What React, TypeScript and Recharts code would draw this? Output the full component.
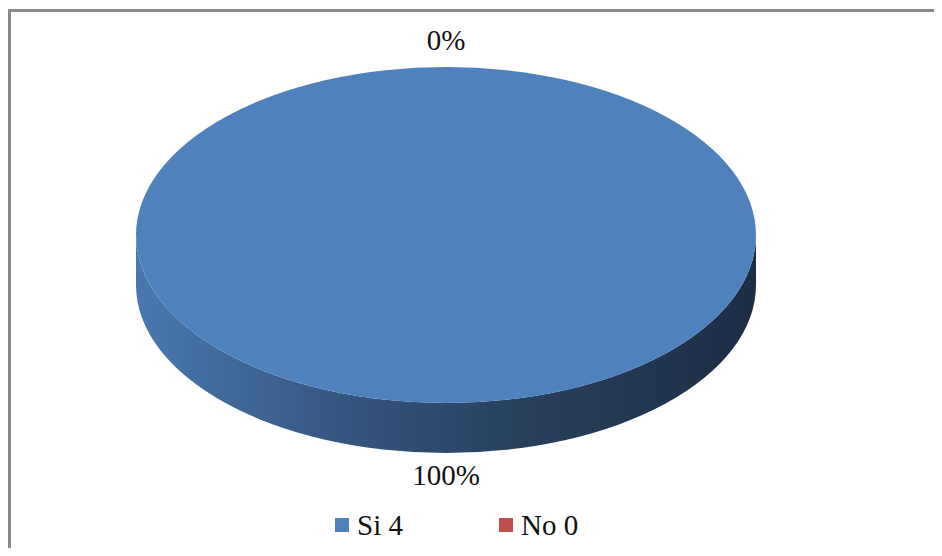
import { PieChart, Pie, Legend } from "recharts";

const categories = ["Si", "No"];
const counts = [4, 0];
const sliceColors = ["#4f81bd", "#c0504d"];

const data = categories.map((name, i) => ({ name, value: counts[i], fill: sliceColors[i] }));

// vertical squash of the disc and thickness of its rim
const TILT = 168 / 310;
const DEPTH = 50;
const SERIF = "'Liberation Serif', 'Times New Roman', serif";

function shade(hex: string, f: number) {
  const n = parseInt(hex.slice(1), 16);
  const ch = [(n >> 16) & 255, (n >> 8) & 255, n & 255].map(c => Math.round(c * f));
  return `rgb(${ch.join(",")})`;
}

function pt(cx: number, cy: number, rx: number, ry: number, deg: number) {
  const r = (deg * Math.PI) / 180;
  return [cx + rx * Math.cos(r), cy - ry * Math.sin(r)];
}

function Disc3D(props: any) {
  const { cx, cy, outerRadius, startAngle, endAngle, fill, index } = props;
  if (Math.abs(endAngle - startAngle) < 0.01) return <g />;
  const rx = outerRadius;
  const ry = outerRadius * TILT;
  const hi0 = Math.max(startAngle, endAngle);
  const lo0 = Math.min(startAngle, endAngle);
  const gid = `rim-shade-${index}`;

  // rim pieces: only the front half of the disc (angles -180..0) shows its side
  const rims: string[] = [];
  for (const k of [-1, 0, 1]) {
    const lo = Math.max(lo0, -180 + 360 * k);
    const hi = Math.min(hi0, 360 * k);
    if (lo >= hi) continue;
    const mid = (lo + hi) / 2;
    const a = pt(cx, cy, rx, ry, hi);
    const m = pt(cx, cy, rx, ry, mid);
    const b = pt(cx, cy, rx, ry, lo);
    rims.push(
      `M${a[0]},${a[1]} A${rx},${ry} 0 0 1 ${m[0]},${m[1]} A${rx},${ry} 0 0 1 ${b[0]},${b[1]} ` +
        `L${b[0]},${b[1] + DEPTH} A${rx},${ry} 0 0 0 ${m[0]},${m[1] + DEPTH} A${rx},${ry} 0 0 0 ${a[0]},${a[1] + DEPTH} Z`
    );
  }

  let top: string;
  if (hi0 - lo0 >= 359.99) {
    const a = pt(cx, cy, rx, ry, hi0);
    const b = pt(cx, cy, rx, ry, hi0 - 180);
    top = `M${a[0]},${a[1]} A${rx},${ry} 0 0 1 ${b[0]},${b[1]} A${rx},${ry} 0 0 1 ${a[0]},${a[1]} Z`;
  } else {
    const a = pt(cx, cy, rx, ry, hi0);
    const b = pt(cx, cy, rx, ry, lo0);
    const large = hi0 - lo0 > 180 ? 1 : 0;
    top = `M${cx},${cy} L${a[0]},${a[1]} A${rx},${ry} 0 ${large} 1 ${b[0]},${b[1]} Z`;
  }

  return (
    <g>
      <defs>
        <linearGradient id={gid} x1="0" y1="0" x2="1" y2="0">
          <stop offset="0%" stopColor={shade(fill, 0.93)} />
          <stop offset="35%" stopColor={shade(fill, 0.66)} />
          <stop offset="60%" stopColor={shade(fill, 0.5)} />
          <stop offset="100%" stopColor={shade(fill, 0.36)} />
        </linearGradient>
      </defs>
      {rims.map((d, i) => (
        <path key={i} d={d} fill={`url(#${gid})`} />
      ))}
      <path d={top} fill={fill} />
    </g>
  );
}

function renderPct(p: any) {
  const { cx, cy, midAngle, outerRadius, percent } = p;
  const r = (midAngle * Math.PI) / 180;
  const s = Math.sin(r);
  // labels below the disc sit under the rim
  const gap = s < -0.01 ? 22 : 27;
  const x = cx + (outerRadius + gap) * Math.cos(r);
  const y = cy - (outerRadius * TILT + gap) * s + (s < -0.01 ? DEPTH : 0);
  return (
    <text x={x} y={y} textAnchor="middle" dominantBaseline="central" fontFamily={SERIF} fontSize={29} fill="#111">
      {`${Math.round(percent * 100)}%`}
    </text>
  );
}

function LegendRow() {
  return (
    <div style={{ display: "flex", alignItems: "center", height: 32, fontFamily: SERIF, fontSize: 29, lineHeight: "32px", color: "#111" }}>
      {categories.map((c, i) => (
        <div key={c} style={{ display: "flex", alignItems: "center", width: 164 }}>
          <span style={{ width: 14, height: 14, background: sliceColors[i], marginRight: 8, flexShrink: 0 }} />
          <span>{`${c} ${counts[i]}`}</span>
        </div>
      ))}
    </div>
  );
}

export default function App() {
  return (
    <div style={{ position: "relative", width: 926, height: 540, overflow: "hidden" }}>
      <div
        style={{
          position: "absolute",
          left: 0,
          top: 1,
          width: 1000,
          height: 600,
          border: "3px solid #8a8a8a",
          boxSizing: "border-box",
        }}
      />
      <div style={{ position: "absolute", left: -8, top: -8 }}>
        <PieChart width={942} height={556} margin={{ top: 0, right: 0, bottom: 0, left: 0 }}>
          <Pie
            data={data}
            dataKey="value"
            nameKey="name"
            cx={446}
            cy={235}
            outerRadius={310}
            startAngle={90}
            endAngle={-270}
            stroke="none"
            label={renderPct}
            labelLine={false}
            shape={Disc3D}
            inactiveShape={Disc3D}
            activeShape={Disc3D}
            isAnimationActive={false}
          />
          <Legend
            content={() => <LegendRow />}
            wrapperStyle={{ position: "absolute", left: 335, top: 509, width: 400 }}
          />
        </PieChart>
      </div>
    </div>
  );
}
